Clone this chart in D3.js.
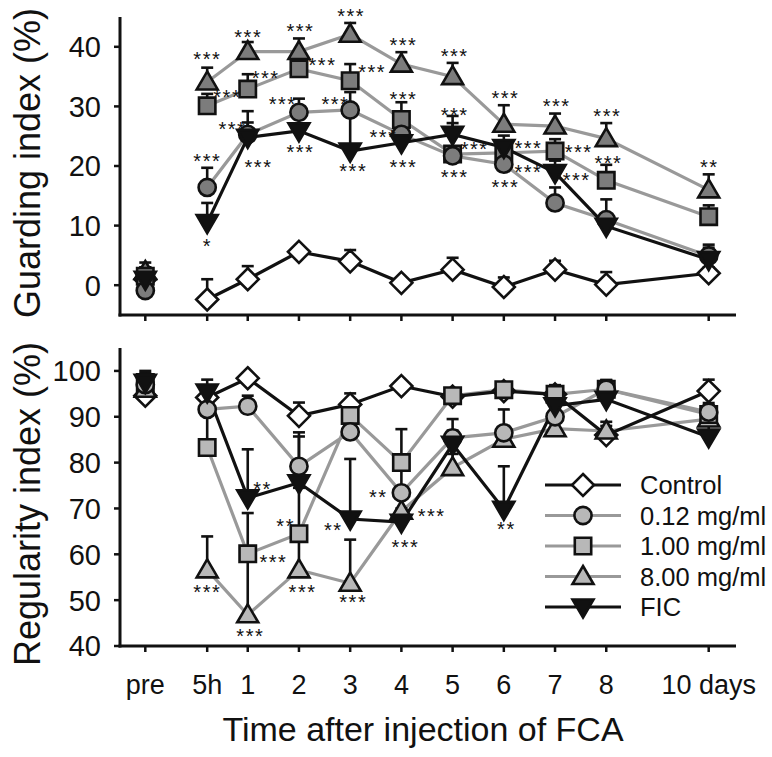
<!DOCTYPE html>
<html><head><meta charset="utf-8">
<script src="https://cdn.jsdelivr.net/npm/d3@7"></script>
<style>body{margin:0;background:#fff}text{font-family:"Liberation Sans",Arial,sans-serif;fill:#111}</style>
</head><body>
<svg id="c" width="772" height="757"></svg>
<script>
// ---------- data ----------
const times = [-1, 5/24, 1, 2, 3, 4, 5, 6, 7, 8, 10];
const tickLabels = ["pre","5h","1","2","3","4","5","6","7","8","10 days"];
const seriesNames = ["Control","0.12 mg/ml","1.00 mg/ml","8.00 mg/ml","FIC"];
const seriesShapes = ["diamond","circle","square","triangle","down"];

// Guarding index (%)
const guardControl  = [1.0,-2.4, 1.0, 5.6, 4.0, 0.4, 2.6,-0.3, 2.6, 0.1, 2.0];
const guardLow      = [-0.9,16.4,25.3,29.0,29.4,25.3,21.7,20.3,13.8,11.0, 4.9];
const guardMid      = [1.5,30.1,32.9,36.3,34.3,27.8,22.0,22.2,22.5,17.6,11.5];
const guardHigh     = [2.3,34.1,39.2,39.2,42.1,37.1,35.0,27.0,26.7,24.6,16.0];
const guardFIC      = [1.0,10.5,24.8,25.9,22.5,23.9,25.3,23.1,18.9, 9.9, 4.3];
const guardErrControl = [1.5,3.4,2.2,0.8,1.9,0.5,2.0,1.6,1.5,2.1,1.0];
const guardErrLow     = [1.0,3.3,3.9,2.3,3.0,2.5,1.5,1.5,2.6,3.4,1.9];
const guardErrMid     = [1.5,2.0,2.5,2.0,2.8,2.9,5.2,2.0,2.0,2.6,1.9];
const guardErrHigh    = [1.5,2.4,1.6,2.2,1.9,2.0,2.3,3.2,2.1,2.6,2.6];
const guardErrFIC     = [2.0,3.3,2.5,2.0,6.8,2.0,3.1,2.0,2.0,2.0,2.0];

// Regularity index (%)
const regControl = [94.6,94.2,98.4,90.2,92.7,96.7,94.4,95.6,94.9,86.0,95.6];
const regLow     = [97.0,91.6,92.3,79.2,86.7,73.4,85.4,86.5,90.0,96.0,91.0];
const regMid     = [97.5,83.3,60.1,64.5,90.3,80.0,94.6,95.9,94.9,96.0,90.5];
const regHigh    = [96.0,56.6,46.8,56.6,53.7,69.4,78.9,85.1,87.4,86.9,89.5];
const regFIC     = [97.5,95.4,72.3,75.6,67.7,67.0,84.0,69.8,92.4,93.8,85.6];
const regErrControl = [1.5,1.5,1.0,2.9,2.4,1.0,1.0,1.0,1.5,2.0,2.5];
const regErrLow     = [2.0,3.0,2.3,7.4,3.0,5.0,4.1,5.1,2.0,2.0,2.0];
const regErrMid     = [2.0,7.0,8.9,10.0,2.0,7.3,1.5,1.5,2.0,2.0,2.0];
const regErrHigh    = [2.0,7.3,13.0,7.5,9.5,3.0,3.0,2.0,2.0,2.0,2.0];
const regErrFIC     = [2.5,2.7,10.6,10.1,13.1,3.0,3.0,9.4,4.0,4.0,2.5];

// significance marks: [time, value, text]
const guardStars = [
  [0.21,38.7,"***"],[1.01,42.5,"***"],[2.03,43.4,"***"],[3.02,45.9,"***"],
  [0.60,32.3,"***"],[1.35,35.5,"***"],[2.46,37.7,"***"],[3.43,36.5,"***"],
  [0.21,21.6,"***"],[0.70,26.9,"***"],[1.68,31.1,"***"],[2.71,31.1,"***"],
  [1.21,20.6,"***"],[2.03,23.1,"***"],[3.06,20.0,"***"],[0.21,7.3,"*"],
  [3.65,25.6,"***"],[4.04,41.0,"***"],[5.04,39.2,"***"],[4.04,32.0,"***"],
  [4.04,20.6,"***"],[5.04,29.4,"***"],[5.43,23.7,"***"],[5.04,19.0,"***"],
  [6.03,32.1,"***"],[6.48,23.8,"***"],[6.48,19.8,"***"],[6.03,17.2,"***"],
  [7.03,30.8,"***"],[7.46,23.2,"***"],[7.42,18.5,"***"],[8.02,29.1,"***"],
  [8.04,21.2,"***"],[10.01,20.6,"**"]
];
const regStars = [
  [1.29,75.2,"**"],[1.74,67.1,"**"],[2.67,66.3,"**"],[1.50,59.3,"***"],
  [0.21,52.7,"***"],[2.07,52.7,"***"],[3.06,50.5,"***"],[1.05,43.1,"***"],
  [3.55,73.5,"**"],[4.59,69.3,"***"],[4.08,62.5,"***"],[6.05,66.5,"**"]
];

const guardTicks = [0,10,20,30,40];
const regTicks = [40,50,60,70,80,90,100];

// ---------- drawing ----------
const svg = d3.select("#c");
const x = d3.scaleLinear().domain([-1,10]).range([145.3,708.7]);
const yTop = d3.scaleLinear().domain([-5,45]).range([315,17]);
const yBot = d3.scaleLinear().domain([40,105]).range([646,348]);
const AX_L = 120, AX_R = 736;
const BLACK = "#111", GRAY_LINE = "#999";

function shapePath(type){
  switch(type){
    case "diamond": return "M0,-11L11,0L0,11L-11,0Z";
    case "circle": { const p = d3.path(); p.arc(0,0,8.6,0,2*Math.PI); p.closePath(); return p.toString(); }
    case "square": return "M-8.2,-8.2H8.2V8.2H-8.2Z";
    case "triangle": return "M0,-10.5L10.5,7.5L-10.5,7.5Z";
    case "down": return "M0,10.5L10.5,-7.5L-10.5,-7.5Z";
  }
}

function panel(y, vals, errs, ticks, title, titleY, stars, fillGray, showLabels){
  const g = svg.append("g");
  const lineColors = [BLACK, GRAY_LINE, GRAY_LINE, GRAY_LINE, BLACK];
  const fills = ["#fff", fillGray, fillGray, fillGray, BLACK];
  // lines (pre point is not connected)
  const lineOrder = [1,2,3,0,4];
  lineOrder.forEach(s=>{
    g.append("path").datum(vals[s].slice(1)).attr("fill","none")
      .attr("stroke",lineColors[s]).attr("stroke-width",3.2)
      .attr("d", d3.line().x((d,i)=>x(times[i+1])).y(d=>y(d)));
  });
  // error bars
  [0,3,2,1,4].forEach(s=>{
    vals[s].forEach((v,i)=>{
      const top = v + errs[s][i];
      g.append("line").attr("x1",x(times[i])).attr("x2",x(times[i]))
        .attr("y1",y(v)).attr("y2",y(top)).attr("stroke",BLACK).attr("stroke-width",2.6);
      g.append("line").attr("x1",x(times[i])-6).attr("x2",x(times[i])+6)
        .attr("y1",y(top)).attr("y2",y(top)).attr("stroke",BLACK).attr("stroke-width",2.6);
    });
  });
  // markers
  [0,3,2,1,4].forEach(s=>{
    g.selectAll(null).data(vals[s]).enter().append("path")
      .attr("d", shapePath(seriesShapes[s]))
      .attr("transform",(d,i)=>`translate(${x(times[i])},${y(d)})`)
      .attr("fill",fills[s]).attr("stroke",BLACK).attr("stroke-width",2.6)
      .attr("stroke-linejoin","miter");
  });
  // stars
  const fs = 20;
  g.selectAll(null).data(stars).enter().append("text")
    .attr("x",d=>x(d[0])).attr("y",d=>y(d[1])+0.58*fs)
    .attr("text-anchor","middle").attr("font-size",fs).attr("letter-spacing",1.5)
    .text(d=>d[2]);
  // axes
  const r0 = y.range();
  g.append("line").attr("x1",AX_L).attr("x2",AX_L).attr("y1",r0[0]+1.5).attr("y2",r0[1])
    .attr("stroke",BLACK).attr("stroke-width",3);
  g.append("line").attr("x1",AX_L-1.5).attr("x2",AX_R).attr("y1",r0[0]).attr("y2",r0[0])
    .attr("stroke",BLACK).attr("stroke-width",3);
  ticks.forEach(t=>{
    g.append("line").attr("x1",AX_L-6).attr("x2",AX_L).attr("y1",y(t)).attr("y2",y(t))
      .attr("stroke",BLACK).attr("stroke-width",2.5);
    g.append("text").attr("x",101).attr("y",y(t)).attr("dy","0.36em")
      .attr("text-anchor","end").attr("font-size",29).text(t);
  });
  times.forEach((t,i)=>{
    g.append("line").attr("x1",x(t)).attr("x2",x(t)).attr("y1",r0[0]).attr("y2",r0[0]+6)
      .attr("stroke",BLACK).attr("stroke-width",2.5);
    if(showLabels){
      g.append("text").attr("x",x(t)).attr("y",694).attr("text-anchor","middle")
        .attr("font-size",27).text(tickLabels[i]);
    }
  });
  g.append("text").attr("transform",`translate(40,${titleY}) rotate(-90)`)
    .attr("text-anchor","middle").attr("font-size",36).text(title);
}

panel(yTop, [guardControl,guardLow,guardMid,guardHigh,guardFIC],
  [guardErrControl,guardErrLow,guardErrMid,guardErrHigh,guardErrFIC],
  guardTicks, "Guarding index (%)", 163, guardStars, "#7c7c7c", false);
panel(yBot, [regControl,regLow,regMid,regHigh,regFIC],
  [regErrControl,regErrLow,regErrMid,regErrHigh,regErrFIC],
  regTicks, "Regularity index (%)", 504, regStars, "#b8b8b8", true);

svg.append("text").attr("x",423).attr("y",741).attr("text-anchor","middle")
  .attr("font-size",34).text("Time after injection of FCA");

// legend
const leg = svg.append("g");
const legColors = [BLACK, GRAY_LINE, GRAY_LINE, GRAY_LINE, BLACK];
const legFills = ["#fff","#b8b8b8","#b8b8b8","#b8b8b8",BLACK];
seriesNames.forEach((n,i)=>{
  const yy = 485 + i*30.5;
  leg.append("line").attr("x1",545).attr("x2",621).attr("y1",yy).attr("y2",yy)
    .attr("stroke",legColors[i]).attr("stroke-width",3);
  leg.append("path").attr("d",shapePath(seriesShapes[i]))
    .attr("transform",`translate(583,${yy})`).attr("fill",legFills[i])
    .attr("stroke",BLACK).attr("stroke-width",2.6);
  leg.append("text").attr("x",640).attr("y",yy).attr("dy","0.36em")
    .attr("font-size",25.5).text(n);
});
</script>
</body></html>
